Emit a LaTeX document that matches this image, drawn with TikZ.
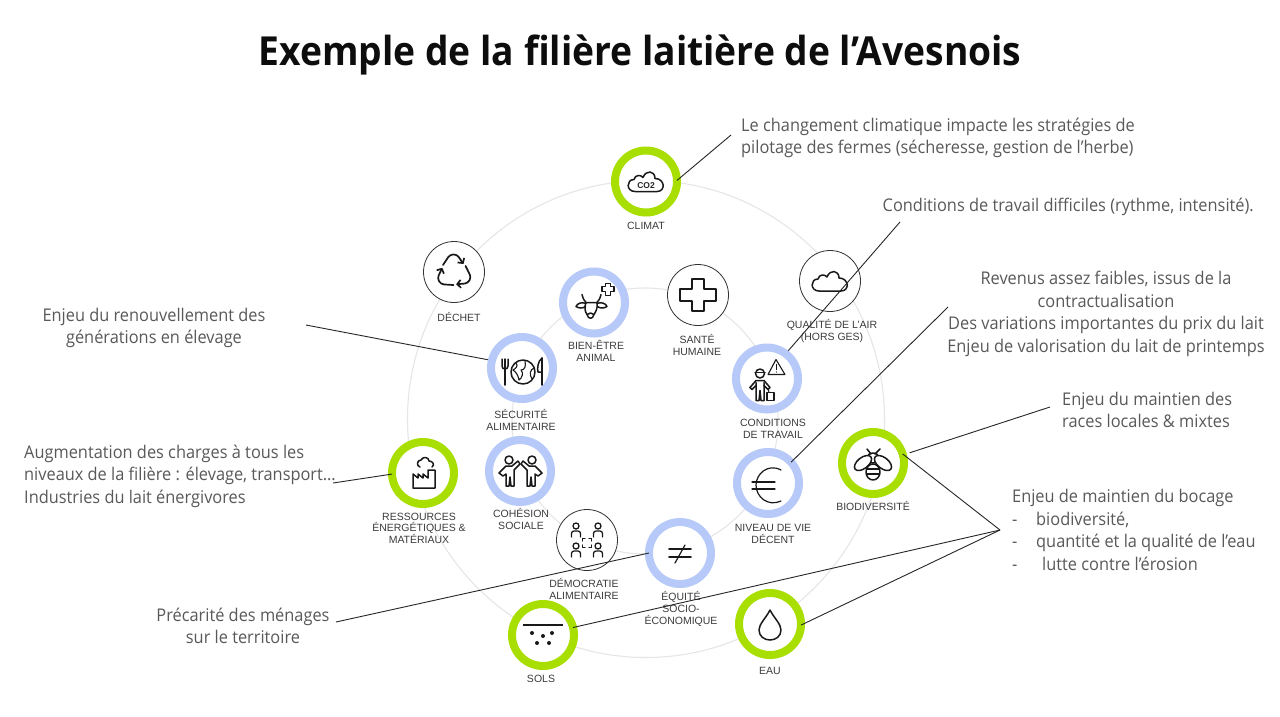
\documentclass[tikz,border=0pt]{standalone}
\usepackage{fontspec}
\usetikzlibrary{arrows.meta}
\setmainfont{Liberation Sans}
\newfontfamily\annofont[FakeStretch=0.935]{Open Sans}
\newfontfamily\titlefont[FakeStretch=0.93]{Open Sans}
\definecolor{ringgreen}{HTML}{A8DE00}
\definecolor{ringblue}{HTML}{B6C9F8}
\definecolor{orbit}{HTML}{E6E6E6}
\definecolor{annotext}{HTML}{595959}
\definecolor{labeltext}{HTML}{3C3C3C}
\tikzset{
  x=1pt,y=-1pt,
  orbitline/.style={draw=orbit,line width=1.1pt},
  greenring/.style={circle,draw=ringgreen,fill=white,line width=8pt,minimum size=62pt,inner sep=0pt,outer sep=0pt},
  bluering/.style={circle,draw=ringblue,fill=white,line width=8pt,minimum size=62pt,inner sep=0pt,outer sep=0pt},
  thinring/.style={circle,draw=black!80,fill=white,line width=0.8pt,minimum size=61pt,inner sep=0pt,outer sep=0pt},
  icon/.style={draw=black!90,line width=1.5pt,line join=round,line cap=round},
  dotmark/.style={fill=black!90},
  lab/.style={font=\fontsize{10.5}{11.6}\selectfont,text=labeltext,align=center,inner sep=0pt},
  anno/.style={font=\annofont\fontsize{17.5}{22.6}\selectfont,text=annotext,inner sep=0pt},
  link/.style={draw=black!85,line width=0.9pt},
}
\begin{document}
\begin{tikzpicture}
\useasboundingbox (0,0) rectangle (1280,716);
\fill[white] (0,0) rectangle (1280,716);

\node[font=\titlefont\bfseries\fontsize{40}{46}\selectfont,text=black!95,inner sep=0pt] (title) at (640,55) {Exemple de la filière laitière de l’Avesnois};

% orbits
\draw[orbitline] (646,419) circle[radius=238.5];
\draw[orbitline] (645,421) circle[radius=133];

% ring nodes
\node[greenring] (climat) at (646,181.5) {};
\node[thinring] (dechet) at (454,272) {};
\node[bluering] (bienetre) at (594,302.5) {};
\node[thinring] (sante) at (698,295) {};
\node[thinring] (air) at (830,281) {};
\node[bluering] (conditions) at (767,378.5) {};
\node[bluering] (niveau) at (768,483) {};
\node[greenring] (biodiv) at (873,463) {};
\node[bluering] (securite) at (522,368) {};
\node[greenring] (ressources) at (423,473) {};
\node[bluering] (cohesion) at (520,471) {};
\node[thinring] (democratie) at (587,540) {};
\node[bluering] (equite) at (680,553) {};
\node[greenring] (sols) at (543,635) {};
\node[greenring] (eau) at (770,624) {};

% icons
\begin{scope}[shift={(climat.center)}]
  \draw[icon] (-11,10) .. controls (-20,10) and (-20,-2) .. (-12,-2) .. controls (-11,-7) and (-5,-7) .. (-3,-4) .. controls (0,-12) and (9,-11) .. (9,-3) .. controls (19,-3) and (20,10) .. (11,10) -- cycle;
  \node[font=\bfseries\fontsize{8.5}{9}\selectfont,inner sep=0pt,text=black!85] (cotext) at (0,4) {CO2};
\end{scope}
\begin{scope}[shift={(air.center)}]
  \draw[icon] (-11,10) .. controls (-20,10) and (-20,-2) .. (-12,-2) .. controls (-11,-7) and (-5,-7) .. (-3,-4) .. controls (0,-12) and (9,-11) .. (9,-3) .. controls (19,-3) and (20,10) .. (11,10) -- cycle;
\end{scope}
\begin{scope}[shift={(dechet.center)}]
  \foreach \r in {0,120,240}
    \draw[icon,line width=1.7pt,rotate=\r,-{Straight Barb[length=3.5pt,width=8pt]},rounded corners=3pt] (-11,-7) -- (-4,-17.5) -- (3,-17.5) -- (9.5,-8);
\end{scope}
\begin{scope}[shift={(sante.center)}]
  \draw[icon] (-6,-16) -- (6,-16) -- (6,-6) -- (18,-6) -- (18,6) -- (6,6) -- (6,16) -- (-6,16) -- (-6,6) -- (-18,6) -- (-18,-6) -- (-6,-6) -- cycle;
\end{scope}
\begin{scope}[shift={(bienetre.center)}]
  \draw[icon] (-8,0) -- (3,0) .. controls (4,5) and (2,9) .. (0,12) .. controls (-1,17) and (-6,17) .. (-7,12) .. controls (-9,9) and (-10,5) .. (-8,0);
  \draw[icon] (-7,12) .. controls (-5,10) and (-2,10) .. (0,12);
  \draw[icon] (-8,1) .. controls (-12,-1) and (-17,1) .. (-18,4) .. controls (-15,6) and (-11,6) .. (-8.5,4);
  \draw[icon] (3,1) .. controls (7,-1) and (12,1) .. (13,4) .. controls (10,6) and (6,6) .. (3.5,4);
  \draw[icon] (-12,-8) .. controls (-11,-4) and (-10,-2) .. (-8,0);
  \draw[icon] (7,-8) .. controls (6,-4) and (5,-2) .. (3,0);
  \draw[icon,line width=1.1pt] (11.5,-19) -- (16.5,-19) -- (16.5,-16) -- (20,-16) -- (20,-11) -- (16.5,-11) -- (16.5,-7) -- (11.5,-7) -- (11.5,-11) -- (8,-11) -- (8,-16) -- (11.5,-16) -- cycle;
\end{scope}
\begin{scope}[shift={(conditions.center)}]
  \draw[icon,line width=1.1pt] (9,-19) -- (18,-4) -- (1,-4) -- cycle;
  \draw[icon,line width=1.1pt] (9.5,-14) -- (9.5,-9);
  \fill[dotmark] (9.5,-6.5) circle[radius=0.7];
  \draw[icon] (-7,-5) circle[radius=4.5];
  \draw[icon] (-12,-6) -- (-2,-6);
  \draw[icon] (-17,9) -- (-11,2) -- (-3,2) -- (3,9) -- (1,11) -- (-3,7);
  \draw[icon] (-17,9) -- (-15,11) -- (-11,7);
  \draw[icon] (-11,4) -- (-11,22) -- (-8,22) -- (-7,12) -- (-6,22) -- (-3,22) -- (-3,4);
  \draw[icon] (0,14) rectangle (7,22);
  \draw[icon,line width=1pt] (1,10) -- (2,14);
\end{scope}
\begin{scope}[shift={(niveau.center)}]
  \draw[icon,line width=1.2pt] (13,-13) .. controls (0,-20) and (-12,-9) .. (-12,2) .. controls (-12,14) and (0,24) .. (13,18);
  \draw[icon,line width=1.2pt] (-16,-1) -- (7,-1);
  \draw[icon,line width=1.2pt] (-16,6) -- (7,6);
\end{scope}
\begin{scope}[shift={(biodiv.center)}]
  \draw[icon] (0,9) ellipse[x radius=7,y radius=8];
  \draw[icon] (-6,6) -- (6,6);
  \draw[icon] (-6.5,11) -- (6.5,11);
  \draw[icon] (0,-5) ellipse[x radius=6,y radius=5];
  \draw[icon] (-6,-14) -- (-2,-9);
  \draw[icon] (7,-14) -- (2,-9);
  \draw[icon,fill=white,shift={(-10,0)},rotate=38] (0,0) ellipse[x radius=10,y radius=5.5];
  \draw[icon,fill=white,shift={(10,0)},rotate=-38] (0,0) ellipse[x radius=10,y radius=5.5];
\end{scope}
\begin{scope}[shift={(securite.center)}]
  \draw[icon] (-20,-9) -- (-20,-2) .. controls (-20,2) and (-14,2) .. (-14,-2) -- (-14,-9);
  \draw[icon] (-17,-9) -- (-17,17);
  \draw[icon] (20,-10) -- (20,17);
  \draw[icon] (20,-10) .. controls (16,-7) and (15,0) .. (16,4) -- (20,4);
  \draw[icon] (1,4) circle[radius=12];
  \draw[icon,line width=1.1pt] (-6,-5) .. controls (-3,-2) and (-7,1) .. (-9,2) .. controls (-6,4) and (-4,7) .. (-3,12) .. controls (0,10) and (2,5) .. (-1,2) .. controls (3,2) and (4,-2) .. (3,-7);
  \draw[icon,line width=1.1pt] (12,0) .. controls (8,2) and (7,6) .. (10,11);
\end{scope}
\begin{scope}[shift={(ressources.center)}]
  \draw[icon] (-10,15) -- (-10,1) -- (-5,5) -- (-5,1) -- (0,5) -- (0,1) -- (5,5) -- (5,-3) -- (12,-3) -- (12,15) -- cycle;
  \draw[icon] (-3,-6) .. controls (-7,-7) and (-6,-13) .. (-2,-13) .. controls (0,-17) and (6,-16) .. (6,-12) .. controls (10,-12) and (12,-8) .. (9,-6);
\end{scope}
\begin{scope}[shift={(cohesion.center)}]
  \draw[icon] (-11,-11) circle[radius=4];
  \draw[icon] (-2,-10) -- (0,-7) -- (-6,-1) -- (-6,15) -- (-9,15) -- (-10,6) -- (-11,15) -- (-14,15) -- (-14,3) -- (-17,5) -- (-21,2) -- (-14,-5) -- (-8,-5) -- cycle;
  \draw[icon] (12,-11) circle[radius=4];
  \draw[icon] (3,-10) -- (1,-7) -- (7,-1) -- (7,15) -- (10,15) -- (11,6) -- (12,15) -- (15,15) -- (15,3) -- (18,5) -- (22,2) -- (15,-5) -- (9,-5) -- cycle;
\end{scope}
\begin{scope}[shift={(democratie.center)}]
  \foreach \px/\py in {-11/-14,11/-14,-11/6,11/6}{
    \draw[icon,line width=1.3pt] (\px,\py) circle[radius=3];
    \draw[icon,line width=1.3pt,rounded corners=2.5pt] (\px-4.5,\py+11) -- (\px-4.5,\py+5) -- (\px+4.5,\py+5) -- (\px+4.5,\py+11);
  }
  \draw[icon,line width=1.2pt] (-4.5,1) -- (-4.5,-1.5) -- (-2,-1.5);
  \draw[icon,line width=1.2pt] (2,-1.5) -- (4.5,-1.5) -- (4.5,1);
  \draw[icon,line width=1.2pt] (-4.5,5) -- (-4.5,7.5) -- (-2,7.5);
  \draw[icon,line width=1.2pt] (2,7.5) -- (4.5,7.5) -- (4.5,5);
\end{scope}
\begin{scope}[shift={(equite.center)}]
  \draw[icon,line width=1.6pt] (-11,-4) -- (11,-4);
  \draw[icon,line width=1.6pt] (-11,4) -- (11,4);
  \draw[icon,line width=1.2pt] (5,-8) -- (-5,10);
\end{scope}
\begin{scope}[shift={(sols.center)}]
  \draw[icon,line width=1.7pt,line cap=butt] (-20,-10) -- (20,-10);
  \foreach \px/\py in {-11/-2,0/1,9/-2,-6/8,6/8}
    \fill[dotmark] (\px,\py) circle[radius=2];
\end{scope}
\begin{scope}[shift={(eau.center)}]
  \draw[icon] (0,-14) .. controls (-4,-6) and (-11,0) .. (-11,6) .. controls (-11,12) and (-6,16) .. (0,16) .. controls (6,16) and (11,12) .. (11,6) .. controls (11,0) and (4,-6) .. (0,-14) -- cycle;
\end{scope}

% labels
\node[lab] (lclimat) at (646,225.5) {CLIMAT};
\node[lab] (ldechet) at (459,317) {DÉCHET};
\node[lab] (lbienetre) at (596,351) {BIEN-ÊTRE\\ANIMAL};
\node[lab] (lsante) at (697,345) {SANTÉ\\HUMAINE};
\node[lab] (lair) at (832,331) {QUALITÉ DE L’AIR\\(HORS GES)};
\node[lab] (lconditions) at (773,429) {CONDITIONS\\DE TRAVAIL};
\node[lab] (lniveau) at (773,534) {NIVEAU DE VIE\\DÉCENT};
\node[lab] (lbiodiv) at (873,506) {BIODIVERSITÉ};
\node[lab] (lsecurite) at (521,420) {SÉCURITÉ\\ALIMENTAIRE};
\node[lab] (lressources) at (419,528) {RESSOURCES\\ÉNERGÉTIQUES \&\\MATÉRIAUX};
\node[lab] (lcohesion) at (521,519) {COHÉSION\\SOCIALE};
\node[lab] (ldemocratie) at (584,589) {DÉMOCRATIE\\ALIMENTAIRE};
\node[lab] (lequite) at (681,609) {ÉQUITÉ\\SOCIO-\\ÉCONOMIQUE};
\node[lab] (lsols) at (541,679) {SOLS};
\node[lab] (leau) at (770,671) {EAU};

% annotations
\node[anno,anchor=west,align=left] (t1) at (741,138) {Le changement climatique impacte les stratégies de\\pilotage des fermes (sécheresse, gestion de l’herbe)};
\node[anno,anchor=east] (t2) at (1254,207) {Conditions de travail difficiles (rythme, intensité).};
\node[anno,align=center] (t3) at (1106,314) {Revenus assez faibles, issus de la\\contractualisation\\Des variations importantes du prix du lait\\Enjeu de valorisation du lait de printemps};
\node[anno,anchor=west,align=left] (t4) at (1062,410) {Enjeu du maintien des\\races locales \& mixtes};
\node[anno,anchor=west,align=left] (t5) at (1012,530) {Enjeu de maintien du bocage\\\makebox[24pt][l]{-}biodiversité,\\\makebox[24pt][l]{-}quantité et la qualité de l’eau\\\makebox[30pt][l]{-}lutte contre l’érosion};
\node[anno,align=center] (t6) at (154,328) {Enjeu du renouvellement des\\générations en élevage};
\node[anno,anchor=west,align=left] (t7) at (24,476) {Augmentation des charges à tous les\\niveaux de la filière : élevage, transport…\\Industries du lait énergivores};
\node[anno,align=center] (t8) at (243,626) {Précarité des ménages\\sur le territoire};

% connector free ends
\coordinate (c1) at (731,135);
\coordinate (c2) at (900,222);
\coordinate (c3) at (948,307);
\coordinate (c4) at (1050,407);
\coordinate (hub) at (1000,530);
\coordinate (c6) at (306,325);
\coordinate (c7) at (333,483);
\coordinate (c8) at (336,622);

% connectors
\draw[link] (c1) -- (climat.2);
\draw[link,shorten >=4pt] (c2) -- (conditions.53);
\draw[link] (c3) -- (niveau.42);
\draw[link,shorten >=7pt] (c4) -- (biodiv.15);
\draw[link] (hub) -- (biodiv.17);
\draw[link] (hub) -- (sols.14);
\draw[link] (hub) -- (eau.-2);
\draw[link,shorten >=4pt] (c6) -- (securite.166);
\draw[link] (c7) -- (ressources.182);
\draw[link] (c8) -- (equite.180);
\end{tikzpicture}
\end{document}
